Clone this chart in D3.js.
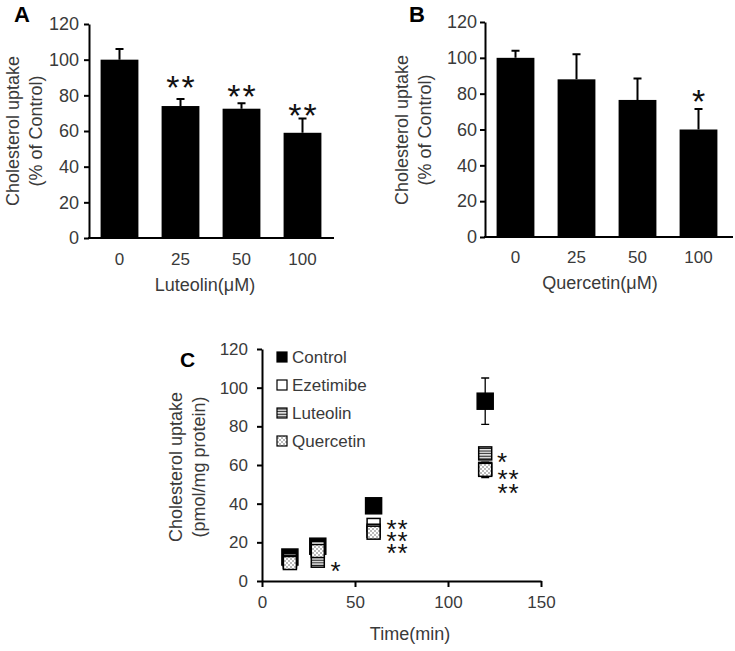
<!DOCTYPE html>
<html>
<head>
<meta charset="utf-8">
<script src="https://cdn.jsdelivr.net/npm/d3@7/dist/d3.min.js"></script>
<style>
  body { margin: 0; background: #fff; }
  text { font-family: "Liberation Sans", Arial, sans-serif; }
</style>
</head>
<body>
<svg id="fig" width="735" height="651"></svg>
<script>
// panel A / B : uptake in % of control
var doses = ["0", "25", "50", "100"];
var luteolinMean = [100, 74, 72.5, 59];
var luteolinSd = [6, 4, 3, 8];
var luteolinSig = ["", "**", "**", "**"];
var luteolinSigAt = [0, 88.8, 83.7, 73.5];
var quercetinMean = [100, 88, 76.5, 60];
var quercetinSd = [4, 14, 12, 11.5];
var quercetinSig = ["", "", "", "*"];
var quercetinSigAt = [0, 0, 0, 80];
var pctTicks = [0, 20, 40, 60, 80, 100, 120];

// panel C : time course, pmol/mg protein
var times = [15, 30, 60, 120];
var seriesNames = ["Control", "Ezetimibe", "Luteolin", "Quercetin"];
var controlUptake = [12.4, 18, 38.9, 93];
var controlSd = [1, 1.5, 2, 12];
var ezetimibeUptake = [11, 17, 29, 58];
var ezetimibeSd = [1, 1, 1.5, 3];
var luteolinUptake = [10, 10.5, 26, 66];
var luteolinUptakeSd = [1, 1, 1.5, 2.5];
var quercetinUptake = [9.3, 15.5, 25, 57.5];
var quercetinUptakeSd = [1, 1, 1.5, 4];
var timeTicks = [0, 50, 100, 150];
var uptakeTicks = [0, 20, 40, 60, 80, 100, 120];
var sigTime = [39.5, 72.6, 72.6, 72.6, 129, 132.3, 132.3];
var sigValue = [8.3, 30, 23.8, 17.6, 64.7, 55.9, 48.6];
var sigText = ["*", "**", "**", "**", "*", "**", "**"];

var svg = d3.select("#fig");
svg.append("rect").attr("width", 735).attr("height", 651).attr("fill", "#fff");

var textColor = "#3a3a3a";

// centre an asterisk glyph on y (glyph sits high in the em box)
function starText(g, x, y, s, size, spacing) {
  g.append("text")
    .attr("x", x + spacing / 2)
    .attr("y", y + size * 0.58)
    .attr("text-anchor", "middle")
    .attr("font-size", size)
    .attr("letter-spacing", spacing)
    .attr("fill", "#111")
    .text(s);
}

function barPanel(p) {
  var g = svg.append("g");

  var x = d3.scaleBand()
    .domain(doses)
    .range(p.xRange)
    .paddingInner(0.38)
    .paddingOuter(0.19);

  var y = d3.scaleLinear()
    .domain([0, 120])
    .range(p.yRange);

  // y axis
  var ya = g.append("g")
    .attr("transform", "translate(" + p.xRange[0] + ",0)")
    .call(d3.axisLeft(y).tickValues(pctTicks).tickSize(5).tickSizeOuter(0));
  ya.select(".domain").attr("stroke-width", 2).attr("stroke", "#000");
  ya.selectAll(".tick line").attr("stroke-width", 2).attr("stroke", "#000");
  ya.selectAll(".tick text")
    .attr("x", -p.tickGap)
    .attr("font-size", 18)
    .attr("font-family", "Liberation Sans, Arial, sans-serif")
    .attr("fill", textColor);

  // bars
  g.selectAll("rect.bar")
    .data(p.mean)
    .enter().append("rect")
    .attr("class", "bar")
    .attr("x", function(d, i) { return x(doses[i]); })
    .attr("y", function(d) { return y(d); })
    .attr("width", x.bandwidth())
    .attr("height", function(d) { return y(0) - y(d); })
    .attr("fill", "#000");

  // upper error bars
  g.selectAll("path.err")
    .data(p.mean)
    .enter().append("path")
    .attr("class", "err")
    .attr("d", function(d, i) {
      var cx = x(doses[i]) + x.bandwidth() / 2,
          top = y(d + p.sd[i]);
      return "M" + cx + "," + y(d) + "V" + top + "M" + (cx - 4) + "," + top + "H" + (cx + 4);
    })
    .attr("stroke", "#000")
    .attr("stroke-width", 2)
    .attr("fill", "none");

  // x axis line (no ticks)
  g.append("line")
    .attr("x1", p.xRange[0] - 1)
    .attr("x2", p.xEnd)
    .attr("y1", y(0))
    .attr("y2", y(0))
    .attr("stroke", "#000")
    .attr("stroke-width", 2);

  g.selectAll("text.cat")
    .data(doses)
    .enter().append("text")
    .attr("class", "cat")
    .attr("x", function(d) { return x(d) + x.bandwidth() / 2; })
    .attr("y", p.catY)
    .attr("text-anchor", "middle")
    .attr("font-size", 17)
    .attr("fill", textColor)
    .text(function(d) { return d; });

  p.sig.forEach(function(s, i) {
    if (!s) return;
    starText(g, x(doses[i]) + x.bandwidth() / 2, y(p.sigAt[i]), s, 34, 2);
  });

  // titles
  g.append("text")
    .attr("x", p.titleX)
    .attr("y", p.titleY)
    .attr("text-anchor", "middle")
    .attr("font-size", 18)
    .attr("fill", textColor)
    .text(p.xTitle);

  var yt = g.append("text")
    .attr("transform", "translate(" + p.yTitleX + "," + p.yTitleY + ") rotate(-90)")
    .attr("text-anchor", "middle")
    .attr("font-size", 18)
    .attr("fill", textColor);
  yt.append("tspan").attr("x", 0).attr("dy", "0.35em").text("Cholesterol uptake");
  yt.append("tspan").attr("x", 0).attr("dy", 23).text("(% of Control)");

  g.append("text")
    .attr("x", p.label[0])
    .attr("y", p.label[1])
    .attr("font-size", 22)
    .attr("font-weight", "bold")
    .attr("fill", "#000")
    .text(p.letter);
}

barPanel({
  letter: "A", label: [14, 22],
  xRange: [89, 333], xEnd: 334, yRange: [238, 24], tickGap: 10,
  mean: luteolinMean, sd: luteolinSd, sig: luteolinSig, sigAt: luteolinSigAt,
  catY: 265, xTitle: "Luteolin(\u03bcM)", titleX: 205, titleY: 291,
  yTitleX: 13, yTitleY: 131
});

barPanel({
  letter: "B", label: [409, 22],
  xRange: [485, 729], xEnd: 733, yRange: [237, 22], tickGap: 8,
  mean: quercetinMean, sd: quercetinSd, sig: quercetinSig, sigAt: quercetinSigAt,
  catY: 263, xTitle: "Quercetin(\u03bcM)", titleX: 600, titleY: 289,
  yTitleX: 402, yTitleY: 130
});

// ---- panel C ----
var defs = svg.append("defs");
var stripes = defs.append("pattern")
  .attr("id", "stripes")
  .attr("patternUnits", "userSpaceOnUse")
  .attr("width", 6).attr("height", 2.6);
stripes.append("rect").attr("width", 6).attr("height", 2.6).attr("fill", "#fff");
stripes.append("rect").attr("y", 0.6).attr("width", 6).attr("height", 1.2).attr("fill", "#222");

var dots = defs.append("pattern")
  .attr("id", "dots")
  .attr("patternUnits", "userSpaceOnUse")
  .attr("width", 4).attr("height", 4);
dots.append("rect").attr("width", 4).attr("height", 4).attr("fill", "#fff");
dots.append("circle").attr("cx", 1).attr("cy", 1).attr("r", 0.7).attr("fill", "#444");
dots.append("circle").attr("cx", 3).attr("cy", 3).attr("r", 0.7).attr("fill", "#444");

var gc = svg.append("g");
var tx = d3.scaleLinear().domain([0, 150]).range([262, 541]);
var ty = d3.scaleLinear().domain([0, 120]).range([581, 349]);

var xa = gc.append("g")
  .attr("transform", "translate(0," + ty(0) + ")")
  .call(d3.axisBottom(tx).tickValues(timeTicks).tickSize(6).tickSizeOuter(0).tickFormat(d3.format("d")));
xa.select(".domain").attr("stroke-width", 2).attr("stroke", "#000");
xa.selectAll(".tick line").attr("stroke-width", 2).attr("stroke", "#000");
xa.selectAll(".tick text")
  .attr("y", 15).attr("dy", "0.71em")
  .attr("font-size", 17)
  .attr("font-family", "Liberation Sans, Arial, sans-serif")
  .attr("fill", textColor);

var yc = gc.append("g")
  .attr("transform", "translate(" + tx(0) + ",0)")
  .call(d3.axisLeft(ty).tickValues(uptakeTicks).tickSize(5).tickSizeOuter(0));
yc.select(".domain").attr("stroke-width", 2).attr("stroke", "#000");
yc.selectAll(".tick line").attr("stroke-width", 2).attr("stroke", "#000");
yc.selectAll(".tick text")
  .attr("x", -14)
  .attr("font-size", 17)
  .attr("font-family", "Liberation Sans, Arial, sans-serif")
  .attr("fill", textColor);

var series = [
  {name: seriesNames[0], v: controlUptake, sd: controlSd, fill: "#000", size: 16},
  {name: seriesNames[1], v: ezetimibeUptake, sd: ezetimibeSd, fill: "#fff", size: 13},
  {name: seriesNames[2], v: luteolinUptake, sd: luteolinUptakeSd, fill: "url(#stripes)", size: 13},
  {name: seriesNames[3], v: quercetinUptake, sd: quercetinUptakeSd, fill: "url(#dots)", size: 13}
];

series.forEach(function(s) {
  var sg = gc.append("g");
  sg.selectAll("path")
    .data(times)
    .enter().append("path")
    .attr("d", function(t, i) {
      var cx = tx(t), lo = ty(s.v[i] - s.sd[i]), hi = ty(s.v[i] + s.sd[i]);
      return "M" + cx + "," + lo + "V" + hi +
        "M" + (cx - 4) + "," + lo + "H" + (cx + 4) +
        "M" + (cx - 4) + "," + hi + "H" + (cx + 4);
    })
    .attr("stroke", "#000")
    .attr("stroke-width", 1.3)
    .attr("fill", "none");
  sg.selectAll("rect")
    .data(times)
    .enter().append("rect")
    .attr("x", function(t) { return tx(t) - s.size / 2; })
    .attr("y", function(t, i) { return ty(s.v[i]) - s.size / 2; })
    .attr("width", s.size)
    .attr("height", s.size)
    .attr("fill", s.fill)
    .attr("stroke", "#000")
    .attr("stroke-width", 1.5);
});

// significance asterisks, stacked tight as in the source figure
sigText.forEach(function(s, i) {
  starText(gc, tx(sigTime[i]), ty(sigValue[i]), s, 26, 1);
});

// legend
var leg = gc.selectAll("g.leg")
  .data(series)
  .enter().append("g")
  .attr("class", "leg")
  .attr("transform", function(d, i) { return "translate(277," + (357 + i * 28) + ")"; });
leg.append("rect")
  .attr("x", 0).attr("y", -5)
  .attr("width", 10).attr("height", 10)
  .attr("fill", function(d) { return d.fill; })
  .attr("stroke", "#000")
  .attr("stroke-width", 1.2);
leg.append("text")
  .attr("x", 15)
  .attr("y", 6)
  .attr("font-size", 17)
  .attr("fill", textColor)
  .text(function(d) { return d.name; });

gc.append("text")
  .attr("x", 410)
  .attr("y", 640)
  .attr("text-anchor", "middle")
  .attr("font-size", 18)
  .attr("fill", textColor)
  .text("Time(min)");

var ytc = gc.append("text")
  .attr("transform", "translate(176,467) rotate(-90)")
  .attr("text-anchor", "middle")
  .attr("font-size", 18)
  .attr("fill", textColor);
ytc.append("tspan").attr("x", 0).attr("dy", "0.35em").text("Cholesterol uptake");
ytc.append("tspan").attr("x", 0).attr("dy", 23).text("(pmol/mg protein)");

gc.append("text")
  .attr("x", 180)
  .attr("y", 367)
  .attr("font-size", 21)
  .attr("font-weight", "bold")
  .attr("fill", "#000")
  .text("C");
</script>
</body>
</html>
